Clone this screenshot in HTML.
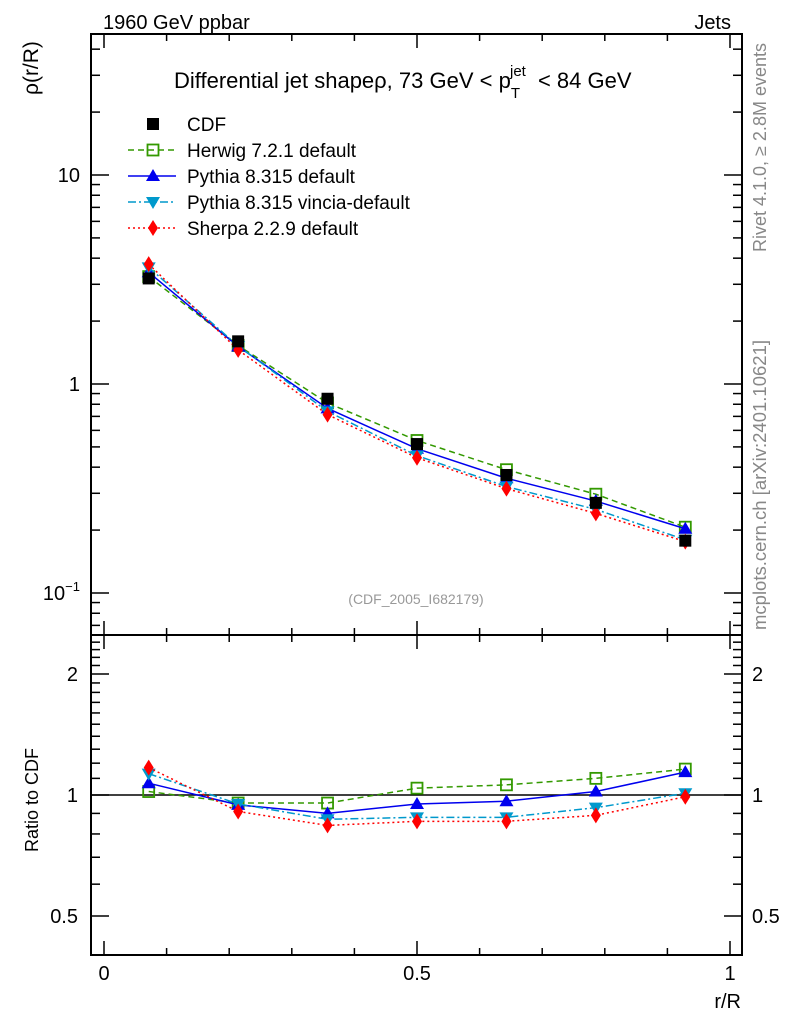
<!DOCTYPE html>
<html><head><meta charset="utf-8"><style>
body{margin:0;background:#fff;}
svg{display:block;font-family:"Liberation Sans",sans-serif;}
</style></head><body>
<svg id="chart" width="786" height="1024" viewBox="0 0 786 1024" xmlns="http://www.w3.org/2000/svg">
<text x="103" y="29" font-size="20">1960 GeV ppbar</text>
<text x="731" y="29" font-size="20" text-anchor="end">Jets</text>
<text x="174" y="88" font-size="22">Differential jet shapeρ, 73 GeV &lt; p<tspan font-size="15" dy="10">T</tspan><tspan font-size="15" dx="-10" dy="-22">jet</tspan><tspan dy="12" dx="6"> &lt; 84 GeV</tspan></text>
<text transform="translate(766,252) rotate(-90)" font-size="18" fill="#888" text-anchor="start">Rivet 4.1.0, ≥ 2.8M events</text>
<text transform="translate(766,630) rotate(-90)" font-size="18.5" fill="#888">mcplots.cern.ch [arXiv:2401.10621]</text>
<text x="416" y="604" font-size="14" fill="#999" text-anchor="middle">(CDF_2005_I682179)</text>
<text transform="translate(38,95) rotate(-90)" font-size="21" text-anchor="start">ρ(r/R)</text>
<text transform="translate(38,800) rotate(-90)" font-size="18" text-anchor="middle">Ratio to CDF</text>
<text x="741" y="1008" font-size="20" text-anchor="end">r/R</text>
<g id="axes"></g><g id="marks"></g><g id="legend"></g>
</svg>
<script>
const xVals=[0.0714,0.2143,0.3571,0.5,0.6429,0.7857,0.9286];
const cdfVals=[3.2,1.6,0.85,0.516,0.367,0.27,0.178];
const herwigRatio=[1.02,0.955,0.955,1.04,1.06,1.10,1.16];
const pythiaRatio=[1.07,0.945,0.90,0.95,0.965,1.02,1.14];
const vinciaRatio=[1.13,0.95,0.87,0.88,0.88,0.93,1.01];
const sherpaRatio=[1.17,0.91,0.84,0.86,0.86,0.89,0.99];
const xTickLabels=["0","0.5","1"];
const ns="http://www.w3.org/2000/svg";
const L=91,R=742,T=34,MB=635,RB=955;
const X=v=>104+v*626;
const Y=v=>384-Math.log10(v)*209;
const YR=v=>795-Math.log2(v)*121;
function mk(t,a,p){const e=document.createElementNS(ns,t);for(const k in a)e.setAttribute(k,a[k]);p.appendChild(e);return e;}
const ax=document.getElementById('axes'),mg=document.getElementById('marks'),lg=document.getElementById('legend');
function ln(x1,y1,x2,y2,p,w){return mk('line',{x1,y1,x2,y2,stroke:'#000','stroke-width':w||2},p);}
let f1=mk('rect',{x:L,y:T,width:R-L,height:MB-T,fill:'none',stroke:'#000','stroke-width':2},ax);

let f2=mk('rect',{x:L,y:MB,width:R-L,height:RB-MB,fill:'none',stroke:'#000','stroke-width':2},ax);

for(let i=0;i<=10;i++){const x=X(i/10),len=(i%5==0)?14:7;
 [T,MB].forEach(y=>ln(x,y,x,y+len,ax,1.5));[MB,RB].forEach(y=>ln(x,y,x,y-len,ax,1.5));}
xTickLabels.forEach((s,i)=>{let t=mk('text',{x:X(i*0.5),y:980,'font-size':20,'text-anchor':'middle'},ax);t.textContent=s;
 });
for(let d=-2;d<=1;d++)for(let m=1;m<=9;m++){const v=m*Math.pow(10,d),y=Y(v);if(y<T||y>MB)continue;const len=m==1?18:9;
 ln(L,y,L+len,y,ax,1.5);ln(R,y,R-len,y,ax,1.5);}
[[10,"10"],[1,"1"]].forEach(([v,s])=>{let t=mk('text',{x:80,y:Y(v)+7,'font-size':20,'text-anchor':'end'},ax);t.textContent=s;
 });
let t0=mk('text',{x:80,y:Y(0.1)+7,'font-size':20,'text-anchor':'end'},ax);t0.innerHTML='10<tspan font-size="13" dy="-9">−1</tspan>';

for(let k=4;k<=25;k++){const v=k/10;const y=YR(v);if(y<MB||y>RB)continue;const major=(k==5||k==10||k==20);
 const len=major?18:9;ln(L,y,L+len,y,ax,1.5);ln(R,y,R-len,y,ax,1.5);}
[[2,"2"],[1,"1"],[0.5,"0.5"]].forEach(([v,s])=>{let t=mk('text',{x:78,y:YR(v)+7,'font-size':20,'text-anchor':'end'},ax);t.textContent=s;
 
 let t2=mk('text',{x:752,y:YR(v)+7,'font-size':20},ax);t2.textContent=s;});
let ref=ln(L,YR(1),R,YR(1),ax,1.5);
function marker(type,x,y,c,p){let e;
 if(type=='sq')e=mk('rect',{x:x-6,y:y-6,width:12,height:12,fill:'#000'},p);
 else if(type=='osq')e=mk('rect',{x:x-5.5,y:y-5.5,width:11,height:11,fill:'#fff','fill-opacity':0,stroke:c,'stroke-width':1.8},p);
 else if(type=='up')e=mk('polygon',{points:`${x},${y-7} ${x-7},${y+5} ${x+7},${y+5}`,fill:c},p);
 else if(type=='dn')e=mk('polygon',{points:`${x},${y+7} ${x-7},${y-5} ${x+7},${y-5}`,fill:c},p);
 else e=mk('polygon',{points:`${x},${y-8} ${x-5},${y} ${x},${y+8} ${x+5},${y}`,fill:c},p);
 return e;}
const series=[
 {name:'herwig',label:'Herwig 7.2.1 default',r:herwigRatio,c:'#339900',dash:'6,4',m:'osq'},
 {name:'pythia',label:'Pythia 8.315 default',r:pythiaRatio,c:'#0000ee',dash:'',m:'up'},
 {name:'vincia',label:'Pythia 8.315 vincia-default',r:vinciaRatio,c:'#0099cc',dash:'8,3,2,3',m:'dn'},
 {name:'sherpa',label:'Sherpa 2.2.9 default',r:sherpaRatio,c:'#ff0000',dash:'2,3',m:'dia'}];
series.forEach(s=>{
 const mainPts=xVals.map((x,i)=>X(x)+','+Y(cdfVals[i]*s.r[i])).join(' ');
 const ratPts=xVals.map((x,i)=>X(x)+','+YR(s.r[i])).join(' ');
 let p1=mk('polyline',{points:mainPts,fill:'none',stroke:s.c,'stroke-width':1.5,'stroke-dasharray':s.dash},mg);
 
 let p2=mk('polyline',{points:ratPts,fill:'none',stroke:s.c,'stroke-width':1.5,'stroke-dasharray':s.dash},mg);
 
 xVals.forEach((x,i)=>{let a=marker(s.m,X(x),Y(cdfVals[i]*s.r[i]),s.c,mg);
  
  let b=marker(s.m,X(x),YR(s.r[i]),s.c,mg);
  });
});
xVals.forEach((x,i)=>{let a=marker('sq',X(x),Y(cdfVals[i]),'#000',mg);
 });
let ly=124;
let e0=marker('sq',153,ly,'#000',lg);
let tt=mk('text',{x:187,y:ly+7,'font-size':19},lg);tt.textContent='CDF';
series.forEach((s,k)=>{const y=150+k*26;
 let l=mk('line',{x1:128,y1:y,x2:176,y2:y,stroke:s.c,'stroke-width':1.5,'stroke-dasharray':s.dash},lg);
 
 let m=marker(s.m,153,y,s.c,lg);
 let t=mk('text',{x:187,y:y+7,'font-size':19},lg);t.textContent=s.label;
 });
</script>
</body></html>
